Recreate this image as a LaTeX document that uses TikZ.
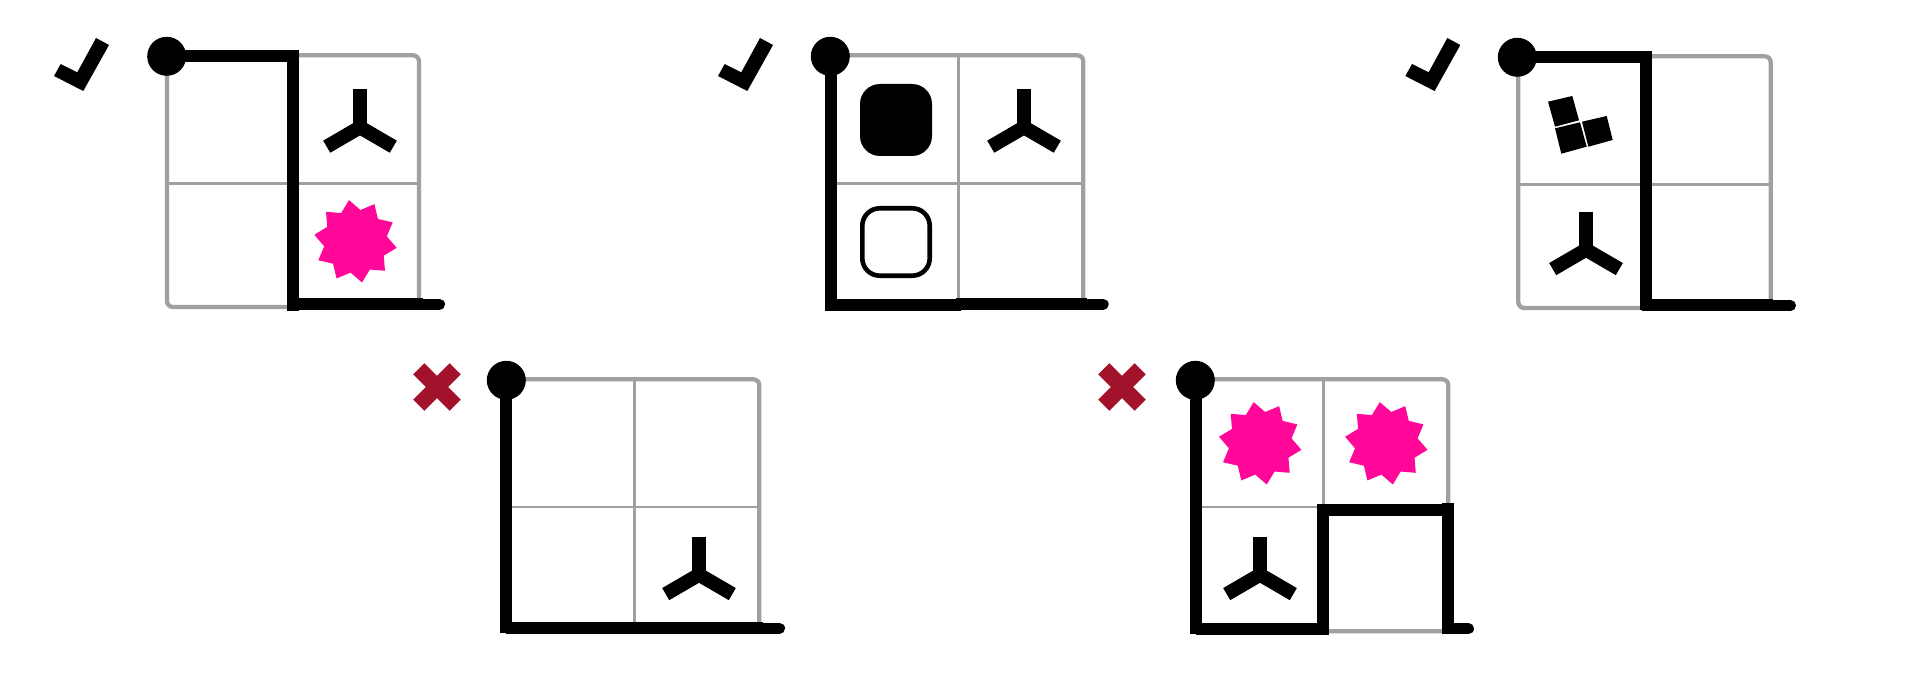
\documentclass[tikz,border=0pt]{standalone}
\tikzset{
  x=0.5pt,y=-0.5pt,
  frame/.style={draw=gridgray,line width=2.15pt,rounded corners=3pt},
  inner/.style={draw=gridgray,line width=1.25pt},
  route/.style={draw=black,line width=6pt},
  tail/.style={draw=black,line width=5.4pt,line cap=round},
  ymk/.style={draw=black,line width=7pt},
  xmk/.style={draw=crossred,line width=7.9pt},
  startdot/.style={fill=black},
  blob/.style={fill=hotpink}
}
\definecolor{gridgray}{HTML}{A0A0A0}
\definecolor{crossred}{HTML}{A3122B}
\definecolor{hotpink}{HTML}{FF0899}
\newcommand{\gridp}[6]{% left top right bottom midx midy
  \draw[inner] (#5,#2) -- (#5,#4);
  \draw[inner] (#1,#6) -- (#3,#6);
  \draw[frame] (#1,#2) rectangle (#3,#4);
}
\newcommand{\ymark}[2]{%
  \draw[ymk] (#1,#2-38) -- (#1,#2);
  \draw[ymk] (#1,#2) -- (#1-33.3,#2+19.4);
  \draw[ymk] (#1,#2) -- (#1+33.3,#2+19.4);
}
\newcommand{\burst}[2]{%
  \fill[blob,shift={(#1,#2)}] plot[samples at={0,...,19},variable=\k]
    ({((mod(\k,2)==0)?41.7:31.7)*cos(99-18*\k)},{-((mod(\k,2)==0)?41.7:31.7)*sin(99-18*\k)}) -- cycle;
}
\newcommand{\tick}[1]{%
  \fill[black,shift={(#1,0)}] (96,38) -- (109,45) -- (83.3,91) -- (54,76) -- (60.7,64) -- (77.3,72.3) -- cycle;
}
\newcommand{\crossmk}[2]{%
  \draw[xmk] (#1-18.2,#2-18.2) -- (#1+18.2,#2+18.2);
  \draw[xmk] (#1-18.2,#2+18.2) -- (#1+18.2,#2-18.2);
}
\begin{document}
\begin{tikzpicture}
\useasboundingbox (0,0) rectangle (1920,700);
\fill[white] (0,0) rectangle (1920,700);

% panel 1
\tick{0}
\gridp{167}{55.3}{419}{307}{293}{183.3}
\ymark{360}{127.3}
\burst{355.5}{241.3}
\draw[route] (167,56) -- (297,56);
\draw[route] (293,50) -- (293,310.7);
\draw[route] (293,304) -- (423,304);
\draw[tail] (420,304.3) -- (439.6,304.3);
\fill[startdot] (166.7,56.3) circle (19.5);

% panel 2
\tick{664}
\gridp{831}{55.3}{1083.3}{307}{958.3}{183.3}
\ymark{1024}{127.3}
\fill[black,rounded corners=10pt] (860,84) rectangle (932,156);
\draw[black,line width=2.3pt,rounded corners=8.7pt] (862.3,208.3) rectangle (929.7,275.7);
\draw[route] (831,56) -- (831,311);
\draw[route] (825,305) -- (961,305);
\draw[route] (956,303.7) -- (1087,303.7);
\draw[tail] (1084,304.3) -- (1103.3,304.3);
\fill[startdot] (830.3,56.3) circle (19.5);

% panel 3
\tick{1351.3}
\gridp{1518.3}{56.3}{1770.7}{308}{1646}{184.3}
\ymark{1586}{249.7}
\fill[black] (1548,101.7) -- (1572.3,96) -- (1579,120.3) -- (1555,126.7) -- cycle;
\fill[black] (1555,128.3) -- (1580,122.3) -- (1586.7,146.7) -- (1561.3,153.7) -- cycle;
\fill[black] (1582,121.7) -- (1606.7,116) -- (1612.7,140) -- (1588.3,146.7) -- cycle;
\draw[route] (1517.3,57) -- (1646,57);
\draw[route] (1646,51) -- (1646,310);
\draw[route] (1642,305) -- (1773,305);
\draw[tail] (1770,305.6) -- (1790.6,305.6);
\fill[startdot] (1517.3,57.3) circle (19.5);

% panel 4
\crossmk{437}{387}
\gridp{506}{379.3}{759.3}{631.3}{634.3}{507}
\ymark{699}{574.7}
\draw[route] (506,380) -- (506,633.3);
\draw[route] (506,628) -- (763,628);
\draw[tail] (760,628.3) -- (779.6,628.3);
\fill[startdot] (506.3,380.3) circle (19.5);

% panel 5
\crossmk{1122}{387}
\gridp{1196}{379.3}{1448.3}{631.3}{1323.3}{507}
\ymark{1260}{574.7}
\burst{1260.2}{443.3}
\burst{1386.3}{443.3}
\draw[route] (1196,380) -- (1196,634);
\draw[route] (1196,629) -- (1329,629);
\draw[route] (1323,504) -- (1323,635);
\draw[route] (1317,510) -- (1454,510);
\draw[route] (1448,503) -- (1448,634);
\draw[tail] (1448,628.7) -- (1468.6,628.7);
\fill[startdot] (1195.3,380.3) circle (19.5);
\end{tikzpicture}
\end{document}
